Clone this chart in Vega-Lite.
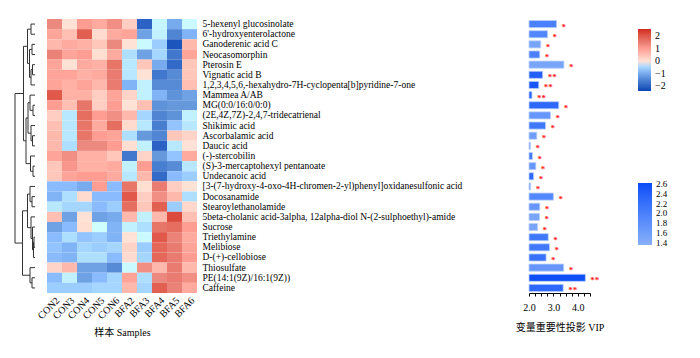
{
"$schema": "https://vega.github.io/schema/vega-lite/v6.json",
"padding": {"left": 14, "top": 18, "right": 5, "bottom": 5},
"config": {
  "font": "Liberation Serif",
  "view": {"stroke": null},
  "axis": {"labelFont": "Liberation Serif", "titleFont": "Liberation Serif, Noto Sans CJK SC", "titleFontWeight": "normal", "titleFontSize": 10, "labelFontSize": 10, "labelColor": "#000", "titleColor": "#000", "domainColor": "#000", "tickColor": "#000", "grid": false},
  "legend": {"labelFont": "Liberation Serif", "labelFontSize": 10, "labelColor": "#000", "padding": 0}
},
"datasets": {
  "mets": [
    {"r":1,"name":"5-hexenyl glucosinolate","vip":3.13,"c":2.0,"sig":"*"},
    {"r":2,"name":"6'-hydroxyenterolactone","vip":2.76,"c":1.9,"sig":"*"},
    {"r":3,"name":"Ganoderenic acid C","vip":2.48,"c":1.5,"sig":"*"},
    {"r":4,"name":"Neocasomorphin","vip":2.44,"c":2.0,"sig":"*"},
    {"r":5,"name":"Pterosin E","vip":3.43,"c":1.5,"sig":"*"},
    {"r":6,"name":"Vignatic acid B","vip":2.56,"c":2.4,"sig":"**"},
    {"r":7,"name":"1,2,3,4,5,6,-hexahydro-7H-cyclopenta[b]pyridine-7-one","vip":2.40,"c":2.5,"sig":"**"},
    {"r":8,"name":"Mammea A/AB","vip":2.12,"c":2.4,"sig":"**"},
    {"r":9,"name":"MG(0:0/16:0/0:0)","vip":3.22,"c":2.3,"sig":"*"},
    {"r":10,"name":"(2E,4Z,7Z)-2,4,7-tridecatrienal","vip":2.88,"c":1.7,"sig":"*"},
    {"r":11,"name":"Shikimic acid","vip":2.68,"c":2.1,"sig":"*"},
    {"r":12,"name":"Ascorbalamic acid","vip":2.32,"c":1.6,"sig":"*"},
    {"r":13,"name":"Daucic acid","vip":2.06,"c":1.4,"sig":"*"},
    {"r":14,"name":"(-)-stercobilin","vip":2.14,"c":2.1,"sig":"*"},
    {"r":15,"name":"(S)-3-mercaptohexyl pentanoate","vip":2.28,"c":1.7,"sig":"*"},
    {"r":16,"name":"Undecanoic acid","vip":2.19,"c":2.3,"sig":"*"},
    {"r":17,"name":"[3-(7-hydroxy-4-oxo-4H-chromen-2-yl)phenyl]oxidanesulfonic acid","vip":2.07,"c":1.4,"sig":"*"},
    {"r":18,"name":"Docosanamide","vip":3.00,"c":1.9,"sig":"*"},
    {"r":19,"name":"Stearoylethanolamide","vip":2.44,"c":1.7,"sig":"*"},
    {"r":20,"name":"5beta-cholanic acid-3alpha, 12alpha-diol N-(2-sulphoethyl)-amide","vip":2.43,"c":1.5,"sig":"*"},
    {"r":21,"name":"Sucrose","vip":2.35,"c":1.5,"sig":"*"},
    {"r":22,"name":"Triethylamine","vip":2.79,"c":2.1,"sig":"*"},
    {"r":23,"name":"Melibiose","vip":2.84,"c":2.1,"sig":"*"},
    {"r":24,"name":"D-(+)-cellobiose","vip":2.70,"c":2.2,"sig":"*"},
    {"r":25,"name":"Thiosulfate","vip":3.42,"c":1.7,"sig":"*"},
    {"r":26,"name":"PE(14:1(9Z)/16:1(9Z))","vip":4.31,"c":2.6,"sig":"**"},
    {"r":27,"name":"Caffeine","vip":3.40,"c":2.3,"sig":"**"}
  ],
  "tree": [
    {"h":4,"ya":1,"ha":0,"yb":2,"hb":0},
    {"h":3,"ya":3,"ha":0,"yb":4,"hb":0},
    {"h":2.5,"ya":5,"ha":0,"yb":6,"hb":0},
    {"h":4,"ya":5.5,"ha":2.5,"yb":7,"hb":0},
    {"h":5.5,"ya":3.5,"ha":3,"yb":6.25,"hb":4},
    {"h":7.5,"ya":1.5,"ha":4,"yb":4.875,"hb":5.5},
    {"h":2,"ya":9,"ha":0,"yb":10,"hb":0},
    {"h":5,"ya":8,"ha":0,"yb":9.5,"hb":2},
    {"h":2.5,"ya":12,"ha":0,"yb":13,"hb":0},
    {"h":4,"ya":11,"ha":0,"yb":12.5,"hb":2.5},
    {"h":7,"ya":8.75,"ha":5,"yb":11.75,"hb":4},
    {"h":2,"ya":15,"ha":0,"yb":16,"hb":0},
    {"h":4.5,"ya":14,"ha":0,"yb":15.5,"hb":2},
    {"h":9,"ya":10.25,"ha":7,"yb":14.75,"hb":4.5},
    {"h":11.5,"ya":3.19,"ha":7.5,"yb":12.5,"hb":9},
    {"h":3,"ya":18,"ha":0,"yb":19,"hb":0},
    {"h":5,"ya":17,"ha":0,"yb":18.5,"hb":3},
    {"h":1,"ya":22,"ha":0,"yb":23,"hb":0},
    {"h":1.5,"ya":22.5,"ha":1,"yb":24,"hb":0},
    {"h":2.5,"ya":21,"ha":0,"yb":23.25,"hb":1.5},
    {"h":4,"ya":20,"ha":0,"yb":22.125,"hb":2.5},
    {"h":7.5,"ya":17.75,"ha":5,"yb":21.06,"hb":4},
    {"h":3,"ya":26,"ha":0,"yb":27,"hb":0},
    {"h":5,"ya":25,"ha":0,"yb":26.5,"hb":3},
    {"h":12.5,"ya":19.4,"ha":7.5,"yb":25.75,"hb":5},
    {"h":20,"ya":7.84,"ha":11.5,"yb":22.58,"hb":12.5}
  ],
  "heat": [
    {"r":1,"s":"CON2","z":1.3},{"r":1,"s":"CON3","z":0},{"r":1,"s":"CON4","z":1.0},{"r":1,"s":"CON5","z":0.8},{"r":1,"s":"CON6","z":1.2},{"r":1,"s":"BFA2","z":0.3},{"r":1,"s":"BFA3","z":-2.0},{"r":1,"s":"BFA4","z":-0.15},{"r":1,"s":"BFA5","z":-1.0},{"r":1,"s":"BFA6","z":-0.1},
    {"r":2,"s":"CON2","z":0.9},{"r":2,"s":"CON3","z":0.5},{"r":2,"s":"CON4","z":1.9},{"r":2,"s":"CON5","z":0.1},{"r":2,"s":"CON6","z":0.8},{"r":2,"s":"BFA2","z":0.9},{"r":2,"s":"BFA3","z":-1.1},{"r":2,"s":"BFA4","z":-0.2},{"r":2,"s":"BFA5","z":-1.5},{"r":2,"s":"BFA6","z":-0.9},
    {"r":3,"s":"CON2","z":0.6},{"r":3,"s":"CON3","z":0.8},{"r":3,"s":"CON4","z":0.7},{"r":3,"s":"CON5","z":0.4},{"r":3,"s":"CON6","z":1.3},{"r":3,"s":"BFA2","z":0.0},{"r":3,"s":"BFA3","z":-0.1},{"r":3,"s":"BFA4","z":-0.6},{"r":3,"s":"BFA5","z":-2.2},{"r":3,"s":"BFA6","z":0.6},
    {"r":4,"s":"CON2","z":1.4},{"r":4,"s":"CON3","z":0.9},{"r":4,"s":"CON4","z":1.0},{"r":4,"s":"CON5","z":0.05},{"r":4,"s":"CON6","z":0.8},{"r":4,"s":"BFA2","z":-0.4},{"r":4,"s":"BFA3","z":-1.1},{"r":4,"s":"BFA4","z":-0.5},{"r":4,"s":"BFA5","z":-1.7},{"r":4,"s":"BFA6","z":0.9},
    {"r":5,"s":"CON2","z":0.9},{"r":5,"s":"CON3","z":0.0},{"r":5,"s":"CON4","z":0.8},{"r":5,"s":"CON5","z":0.7},{"r":5,"s":"CON6","z":1.6},{"r":5,"s":"BFA2","z":-0.3},{"r":5,"s":"BFA3","z":0.4},{"r":5,"s":"BFA4","z":-1.0},{"r":5,"s":"BFA5","z":-1.9},{"r":5,"s":"BFA6","z":0.4},
    {"r":6,"s":"CON2","z":0.9},{"r":6,"s":"CON3","z":0.9},{"r":6,"s":"CON4","z":0.7},{"r":6,"s":"CON5","z":0.8},{"r":6,"s":"CON6","z":1.5},{"r":6,"s":"BFA2","z":-0.3},{"r":6,"s":"BFA3","z":0.0},{"r":6,"s":"BFA4","z":-1.7},{"r":6,"s":"BFA5","z":-1.4},{"r":6,"s":"BFA6","z":0.4},
    {"r":7,"s":"CON2","z":0.9},{"r":7,"s":"CON3","z":0.7},{"r":7,"s":"CON4","z":0.9},{"r":7,"s":"CON5","z":0.6},{"r":7,"s":"CON6","z":1.5},{"r":7,"s":"BFA2","z":-0.9},{"r":7,"s":"BFA3","z":-0.2},{"r":7,"s":"BFA4","z":-1.4},{"r":7,"s":"BFA5","z":-1.4},{"r":7,"s":"BFA6","z":0.5},
    {"r":8,"s":"CON2","z":2.0},{"r":8,"s":"CON3","z":0.7},{"r":8,"s":"CON4","z":0.7},{"r":8,"s":"CON5","z":0.3},{"r":8,"s":"CON6","z":0.9},{"r":8,"s":"BFA2","z":0.2},{"r":8,"s":"BFA3","z":-0.2},{"r":8,"s":"BFA4","z":-0.9},{"r":8,"s":"BFA5","z":-1.3},{"r":8,"s":"BFA6","z":-1.1},
    {"r":9,"s":"CON2","z":1.0},{"r":9,"s":"CON3","z":0.5},{"r":9,"s":"CON4","z":1.6},{"r":9,"s":"CON5","z":0.3},{"r":9,"s":"CON6","z":1.0},{"r":9,"s":"BFA2","z":0.0},{"r":9,"s":"BFA3","z":0.5},{"r":9,"s":"BFA4","z":-1.3},{"r":9,"s":"BFA5","z":-1.2},{"r":9,"s":"BFA6","z":-1.2},
    {"r":10,"s":"CON2","z":0.3},{"r":10,"s":"CON3","z":-0.3},{"r":10,"s":"CON4","z":1.7},{"r":10,"s":"CON5","z":1.0},{"r":10,"s":"CON6","z":1.2},{"r":10,"s":"BFA2","z":0.6},{"r":10,"s":"BFA3","z":-0.5},{"r":10,"s":"BFA4","z":-1.5},{"r":10,"s":"BFA5","z":-1.3},{"r":10,"s":"BFA6","z":-0.2},
    {"r":11,"s":"CON2","z":0.5},{"r":11,"s":"CON3","z":-0.3},{"r":11,"s":"CON4","z":1.6},{"r":11,"s":"CON5","z":0.8},{"r":11,"s":"CON6","z":1.7},{"r":11,"s":"BFA2","z":0.1},{"r":11,"s":"BFA3","z":-0.3},{"r":11,"s":"BFA4","z":-1.6},{"r":11,"s":"BFA5","z":-0.7},{"r":11,"s":"BFA6","z":-0.3},
    {"r":12,"s":"CON2","z":0.6},{"r":12,"s":"CON3","z":-0.3},{"r":12,"s":"CON4","z":1.6},{"r":12,"s":"CON5","z":1.0},{"r":12,"s":"CON6","z":0.9},{"r":12,"s":"BFA2","z":-0.4},{"r":12,"s":"BFA3","z":-1.2},{"r":12,"s":"BFA4","z":-1.5},{"r":12,"s":"BFA5","z":0.4},{"r":12,"s":"BFA6","z":0.2},
    {"r":13,"s":"CON2","z":0.6},{"r":13,"s":"CON3","z":-0.4},{"r":13,"s":"CON4","z":1.3},{"r":13,"s":"CON5","z":1.3},{"r":13,"s":"CON6","z":1.0},{"r":13,"s":"BFA2","z":0.05},{"r":13,"s":"BFA3","z":-0.2},{"r":13,"s":"BFA4","z":-2.0},{"r":13,"s":"BFA5","z":-0.3},{"r":13,"s":"BFA6","z":0.0},
    {"r":14,"s":"CON2","z":0.9},{"r":14,"s":"CON3","z":1.2},{"r":14,"s":"CON4","z":0.7},{"r":14,"s":"CON5","z":0.7},{"r":14,"s":"CON6","z":0.4},{"r":14,"s":"BFA2","z":-1.7},{"r":14,"s":"BFA3","z":0.2},{"r":14,"s":"BFA4","z":-1.2},{"r":14,"s":"BFA5","z":-0.7},{"r":14,"s":"BFA6","z":0.8},
    {"r":15,"s":"CON2","z":0.4},{"r":15,"s":"CON3","z":1.1},{"r":15,"s":"CON4","z":0.7},{"r":15,"s":"CON5","z":0.7},{"r":15,"s":"CON6","z":0.8},{"r":15,"s":"BFA2","z":-0.2},{"r":15,"s":"BFA3","z":1.0},{"r":15,"s":"BFA4","z":-1.6},{"r":15,"s":"BFA5","z":-1.4},{"r":15,"s":"BFA6","z":-0.3},
    {"r":16,"s":"CON2","z":0.4},{"r":16,"s":"CON3","z":0.9},{"r":16,"s":"CON4","z":1.0},{"r":16,"s":"CON5","z":1.0},{"r":16,"s":"CON6","z":0.8},{"r":16,"s":"BFA2","z":-0.3},{"r":16,"s":"BFA3","z":0.6},{"r":16,"s":"BFA4","z":-1.9},{"r":16,"s":"BFA5","z":-0.8},{"r":16,"s":"BFA6","z":-0.6},
    {"r":17,"s":"CON2","z":-0.8},{"r":17,"s":"CON3","z":-0.8},{"r":17,"s":"CON4","z":-1.0},{"r":17,"s":"CON5","z":1.0},{"r":17,"s":"CON6","z":-0.8},{"r":17,"s":"BFA2","z":1.6},{"r":17,"s":"BFA3","z":0.05},{"r":17,"s":"BFA4","z":1.5},{"r":17,"s":"BFA5","z":0.3},{"r":17,"s":"BFA6","z":0.0},
    {"r":18,"s":"CON2","z":-0.9},{"r":18,"s":"CON3","z":-0.4},{"r":18,"s":"CON4","z":0.1},{"r":18,"s":"CON5","z":-0.8},{"r":18,"s":"CON6","z":-0.8},{"r":18,"s":"BFA2","z":2.0},{"r":18,"s":"BFA3","z":0.3},{"r":18,"s":"BFA4","z":1.2},{"r":18,"s":"BFA5","z":0.6},{"r":18,"s":"BFA6","z":-0.4},
    {"r":19,"s":"CON2","z":-0.3},{"r":19,"s":"CON3","z":-0.5},{"r":19,"s":"CON4","z":-0.5},{"r":19,"s":"CON5","z":-0.8},{"r":19,"s":"CON6","z":-0.6},{"r":19,"s":"BFA2","z":1.7},{"r":19,"s":"BFA3","z":0.4},{"r":19,"s":"BFA4","z":1.9},{"r":19,"s":"BFA5","z":-0.6},{"r":19,"s":"BFA6","z":0.15},
    {"r":20,"s":"CON2","z":0.5},{"r":20,"s":"CON3","z":-1.1},{"r":20,"s":"CON4","z":0.0},{"r":20,"s":"CON5","z":-1.1},{"r":20,"s":"CON6","z":-1.0},{"r":20,"s":"BFA2","z":0.6},{"r":20,"s":"BFA3","z":-0.2},{"r":20,"s":"BFA4","z":0.6},{"r":20,"s":"BFA5","z":2.2},{"r":20,"s":"BFA6","z":0.5},
    {"r":21,"s":"CON2","z":-1.1},{"r":21,"s":"CON3","z":-0.8},{"r":21,"s":"CON4","z":0.05},{"r":21,"s":"CON5","z":-0.05},{"r":21,"s":"CON6","z":-0.9},{"r":21,"s":"BFA2","z":-0.2},{"r":21,"s":"BFA3","z":-0.4},{"r":21,"s":"BFA4","z":1.6},{"r":21,"s":"BFA5","z":1.7},{"r":21,"s":"BFA6","z":1.0},
    {"r":22,"s":"CON2","z":-0.8},{"r":22,"s":"CON3","z":-0.4},{"r":22,"s":"CON4","z":-0.7},{"r":22,"s":"CON5","z":-0.6},{"r":22,"s":"CON6","z":-0.9},{"r":22,"s":"BFA2","z":0.0},{"r":22,"s":"BFA3","z":-0.1},{"r":22,"s":"BFA4","z":2.0},{"r":22,"s":"BFA5","z":1.4},{"r":22,"s":"BFA6","z":0.8},
    {"r":23,"s":"CON2","z":-0.7},{"r":23,"s":"CON3","z":-0.9},{"r":23,"s":"CON4","z":-0.5},{"r":23,"s":"CON5","z":-0.6},{"r":23,"s":"CON6","z":-0.5},{"r":23,"s":"BFA2","z":0.2},{"r":23,"s":"BFA3","z":-0.6},{"r":23,"s":"BFA4","z":1.8},{"r":23,"s":"BFA5","z":1.5},{"r":23,"s":"BFA6","z":0.9},
    {"r":24,"s":"CON2","z":-0.8},{"r":24,"s":"CON3","z":-0.9},{"r":24,"s":"CON4","z":-0.4},{"r":24,"s":"CON5","z":-0.4},{"r":24,"s":"CON6","z":-0.8},{"r":24,"s":"BFA2","z":0.1},{"r":24,"s":"BFA3","z":-0.5},{"r":24,"s":"BFA4","z":1.8},{"r":24,"s":"BFA5","z":1.5},{"r":24,"s":"BFA6","z":1.0},
    {"r":25,"s":"CON2","z":0.2},{"r":25,"s":"CON3","z":0.6},{"r":25,"s":"CON4","z":-1.1},{"r":25,"s":"CON5","z":-1.1},{"r":25,"s":"CON6","z":-1.4},{"r":25,"s":"BFA2","z":-0.1},{"r":25,"s":"BFA3","z":1.2},{"r":25,"s":"BFA4","z":0.6},{"r":25,"s":"BFA5","z":1.5},{"r":25,"s":"BFA6","z":0.6},
    {"r":26,"s":"CON2","z":-0.8},{"r":26,"s":"CON3","z":-0.2},{"r":26,"s":"CON4","z":-1.1},{"r":26,"s":"CON5","z":-0.8},{"r":26,"s":"CON6","z":-0.5},{"r":26,"s":"BFA2","z":0.9},{"r":26,"s":"BFA3","z":-0.4},{"r":26,"s":"BFA4","z":1.3},{"r":26,"s":"BFA5","z":1.5},{"r":26,"s":"BFA6","z":1.2},
    {"r":27,"s":"CON2","z":-0.6},{"r":27,"s":"CON3","z":-0.6},{"r":27,"s":"CON4","z":-0.6},{"r":27,"s":"CON5","z":-0.5},{"r":27,"s":"CON6","z":-0.5},{"r":27,"s":"BFA2","z":0.6},{"r":27,"s":"BFA3","z":-0.5},{"r":27,"s":"BFA4","z":1.9},{"r":27,"s":"BFA5","z":1.4},{"r":27,"s":"BFA6","z":0.8}
  ]
},
"hconcat": [
  {
    "hconcat": [
      {
        "width": 32, "height": 274,
        "data": {"name": "tree"},
        "layer": [
          {"mark": {"type": "rule", "color": "#333333", "strokeWidth": 1},
           "encoding": {
             "x": {"field": "ha", "type": "quantitative", "scale": {"domain": [-12, 20], "reverse": true, "nice": false, "zero": false}, "axis": null},
             "x2": {"field": "h"},
             "y": {"field": "ya", "type": "quantitative", "scale": {"domain": [0.5, 27.5], "reverse": true, "nice": false, "zero": false}, "axis": null}
           }},
          {"mark": {"type": "rule", "color": "#333333", "strokeWidth": 1},
           "encoding": {
             "x": {"field": "hb", "type": "quantitative"},
             "x2": {"field": "h"},
             "y": {"field": "yb", "type": "quantitative"}
           }},
          {"mark": {"type": "rule", "color": "#333333", "strokeWidth": 1},
           "encoding": {
             "x": {"field": "h", "type": "quantitative"},
             "y": {"field": "ya", "type": "quantitative"},
             "y2": {"field": "yb"}
           }}
        ]
      },
      {
        "width": 150, "height": 274,
        "data": {"name": "heat"},
        "transform": [{"lookup": "r", "from": {"data": {"name": "mets"}, "key": "r", "fields": ["name"]}}],
        "mark": {"type": "rect"},
        "encoding": {
          "x": {"field": "s", "type": "nominal", "sort": null,
                "axis": {"title": "样本 Samples", "labelAngle": -45, "domain": false, "ticks": false, "labelPadding": 2, "titlePadding": 7}},
          "y": {"field": "name", "type": "nominal", "sort": null,
                "axis": {"orient": "right", "title": null, "domain": false, "ticks": false, "labelPadding": 5, "labelFontSize": 9.5, "labelLimit": 400}},
          "color": {"field": "z", "type": "quantitative",
                    "scale": {"domain": [-2.4, -1.2, 0, 1.28, 2.56], "range": ["#0a47b4", "#6699dc", "#ffffff", "#ec8a80", "#d12a20"]},
                    "legend": {"orient": "none", "legendX": 591, "legendY": 10, "title": null, "direction": "vertical", "gradientLength": 62, "gradientThickness": 13, "values": [-2, -1, 0, 1, 2], "labelOffset": 4}}
        }
      }
    ],
    "spacing": 0,
    "bounds": "flush",
    "resolve": {"scale": {"x": "independent", "y": "independent", "color": "independent"}, "legend": {"color": "independent"}}
  },
  {
    "width": 61, "height": 274,
    "data": {"name": "mets"},
    "encoding": {
      "y": {"field": "name", "type": "nominal", "sort": null, "axis": null, "scale": {"paddingInner": 0.3, "paddingOuter": 0.15}},
      "x": {"field": "vip", "type": "quantitative", "scale": {"domain": [2, 4.5], "zero": false, "nice": false},
            "axis": {"title": "变量重要性投影  VIP", "values": [2, 2.25, 2.5, 2.75, 3, 3.25, 3.5, 3.75, 4, 4.25, 4.5], "labelExpr": "(datum.value == 2 || datum.value == 3 || datum.value == 4) ? datum.label : ''", "format": ".1f", "tickSize": 3, "labelPadding": 6, "titlePadding": 10, "labelOverlap": false, "labelFlush": false, "labelBound": false}}
    },
    "layer": [
      {"mark": {"type": "bar", "stroke": "#b9cffb", "strokeWidth": 0.8},
       "encoding": {
         "x2": {"datum": 2},
         "color": {"field": "c", "type": "quantitative",
                   "scale": {"domain": [1.35, 2.62], "range": ["#88b0f8", "#0a4cf6"]},
                   "legend": {"orient": "none", "legendX": 109, "legendY": 164, "title": null, "direction": "vertical", "gradientLength": 62, "gradientThickness": 14, "values": [1.4, 1.6, 1.8, 2.0, 2.2, 2.4, 2.6], "format": ".1f", "labelOffset": 4, "labelOverlap": false, "labelFontSize": 9}}
       }},
      {"mark": {"type": "text", "color": "#ff1a1a", "align": "left", "baseline": "middle", "dx": 5, "dy": 2.5, "fontSize": 9, "fontWeight": "bold"},
       "encoding": {
         "text": {"field": "sig"}
       }}
    ]
  }
],
"spacing": 514,
"bounds": "flush",
"resolve": {"scale": {"x": "independent", "y": "independent", "color": "independent"}, "legend": {"color": "independent"}}
}
